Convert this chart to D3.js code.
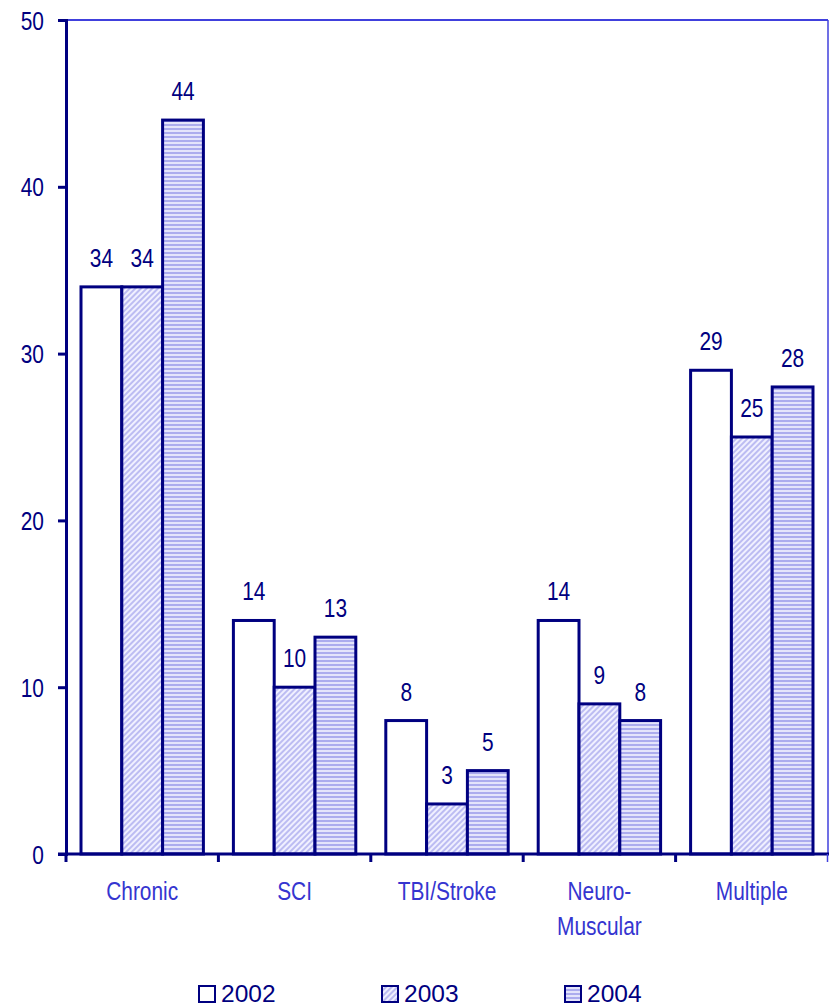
<!DOCTYPE html>
<html>
<head>
<meta charset="utf-8">
<script src="https://cdn.jsdelivr.net/npm/d3@7"></script>
<style>
  html, body { margin: 0; padding: 0; background: #fff; }
  svg { display: block; }
  text { font-family: "Liberation Sans", Arial, sans-serif; }
</style>
</head>
<body>
<svg id="chart" width="829" height="1008"></svg>
<script>
// Chart data
const categories = ["Chronic", "SCI", "TBI/Stroke", "Neuro-\nMuscular", "Multiple"];
const years = ["2002", "2003", "2004"];
const values2002 = [34, 14, 8, 14, 29];
const values2003 = [34, 10, 3, 9, 25];
const values2004 = [44, 13, 5, 8, 28];
const yTicks = [0, 10, 20, 30, 40, 50];

const seriesValues = [values2002, values2003, values2004];
const navy = "#000080";
const labelBlue = "#3535d0";
const NARROW = 0.82;   // horizontal squeeze for the condensed label face
const FS = 25.5;

const svg = d3.select("#chart");
const margin = { left: 66, right: 1, top: 20, bottom: 154 };
const W = 829, H = 1008;

const x0 = d3.scaleBand().domain(categories).range([margin.left, W - margin.right]);
const x1 = d3.scaleBand().domain(years).range([15, x0.bandwidth() - 15]);
const y = d3.scaleLinear().domain([0, 50]).range([H - margin.bottom, margin.top]);

// Draw condensed text anchored at (x, y)
function narrowText(parent, x, yy, str, opts) {
  return parent.append("text")
    .attr("transform", `translate(${x},${yy}) scale(${NARROW},1)`)
    .attr("text-anchor", opts.anchor || "middle")
    .attr("font-size", opts.size || FS)
    .attr("fill", opts.fill || navy)
    .text(str);
}

// Fill patterns
const defs = svg.append("defs");
const diag = defs.append("pattern").attr("id", "p2003").attr("patternUnits", "userSpaceOnUse")
  .attr("width", 4).attr("height", 4).attr("patternTransform", "rotate(45)");
diag.append("rect").attr("width", 4).attr("height", 4).attr("fill", "#f0f0ff");
diag.append("rect").attr("width", 2).attr("height", 4).attr("fill", "#bcbcf2");

const horiz = defs.append("pattern").attr("id", "p2004").attr("patternUnits", "userSpaceOnUse")
  .attr("width", 4).attr("height", 4);
horiz.append("rect").attr("width", 4).attr("height", 4).attr("fill", "#e4e4fb");
horiz.append("rect").attr("width", 4).attr("height", 2).attr("fill", "#acacee");

const fills = ["#ffffff", "url(#p2003)", "url(#p2004)"];

// Plot area border (top and right)
svg.append("line").attr("x1", margin.left).attr("x2", W - 1).attr("y1", y(50)).attr("y2", y(50))
  .attr("stroke", "#4040dd").attr("stroke-width", 2);
svg.append("line").attr("x1", W - 1).attr("x2", W - 1).attr("y1", y(50)).attr("y2", y(0))
  .attr("stroke", "#4040dd").attr("stroke-width", 1.5);

// Bars and value labels
const groups = svg.append("g").selectAll("g").data(categories).join("g")
  .attr("transform", d => `translate(${x0(d)},0)`);

groups.each(function (cat, ci) {
  const g = d3.select(this);
  years.forEach((yr, si) => {
    const v = seriesValues[si][ci];
    g.append("rect")
      .attr("x", x1(yr))
      .attr("y", y(v))
      .attr("width", x1.bandwidth())
      .attr("height", y(0) - y(v))
      .attr("fill", fills[si])
      .attr("stroke", navy)
      .attr("stroke-width", 3);
    narrowText(g, x1(yr) + x1.bandwidth() / 2, y(v) - 20, v, {});
  });
});

// Y axis
const yAxis = d3.axisLeft(y).tickValues(yTicks).tickSize(8).tickFormat(d3.format("d"));
const gy = svg.append("g").attr("transform", `translate(${margin.left},0)`).call(yAxis);
gy.select(".domain").attr("stroke", navy).attr("stroke-width", 3);
gy.selectAll(".tick line").attr("stroke", navy).attr("stroke-width", 3);
gy.selectAll(".tick text")
  .attr("x", 0).attr("dy", null)
  .attr("transform", `translate(-22,9) scale(${NARROW},1)`)
  .attr("font-size", FS).attr("fill", navy);

// X axis baseline with ticks at category boundaries
const boundaries = categories.map(c => x0(c)).concat([x0.range()[1]]);
svg.append("line").attr("x1", margin.left - 8).attr("x2", W).attr("y1", y(0)).attr("y2", y(0))
  .attr("stroke", navy).attr("stroke-width", 3);
svg.append("g").selectAll("line").data(boundaries).join("line")
  .attr("x1", d => Math.min(d, W - 1.5)).attr("x2", d => Math.min(d, W - 1.5))
  .attr("y1", y(0)).attr("y2", y(0) + 8)
  .attr("stroke", (d, i) => i === boundaries.length - 1 ? "#4040dd" : navy)
  .attr("stroke-width", (d, i) => i === boundaries.length - 1 ? 1.5 : 3);

// Category labels
const gCat = svg.append("g");
categories.forEach(c => {
  c.split("\n").forEach((ln, i) => {
    narrowText(gCat, x0(c) + x0.bandwidth() / 2, y(0) + 46 + i * 35, ln, { fill: labelBlue });
  });
});

// Legend
const legendX = [198, 381, 564];
const legend = svg.append("g").selectAll("g").data(years).join("g")
  .attr("transform", (d, i) => `translate(${legendX[i]},985)`);
legend.append("rect").attr("x", 1).attr("y", 1).attr("width", 16).attr("height", 16)
  .attr("fill", (d, i) => fills[i]).attr("stroke", navy).attr("stroke-width", 2);
legend.append("text").attr("x", 23).attr("y", 17)
  .attr("font-size", 24.5).attr("fill", navy).text(d => d);
</script>
</body>
</html>
